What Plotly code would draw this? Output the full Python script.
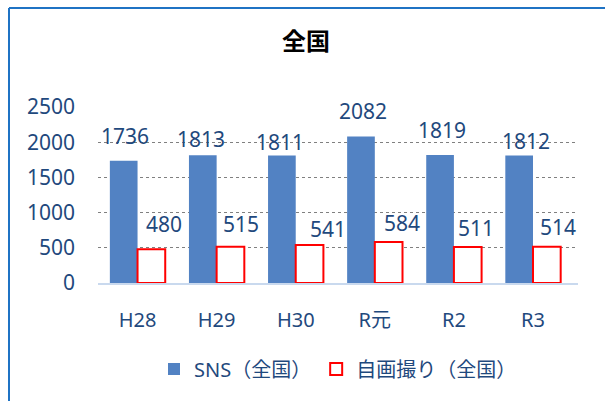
import plotly.graph_objects as go

categories = ["H28", "H29", "H30", "R元", "R2", "R3"]
sns_values = [1736, 1813, 1811, 2082, 1819, 1812]
selfie_values = [480, 515, 541, 584, 511, 514]
y_ticks = [0, 500, 1000, 1500, 2000, 2500]

# label placement styles (pixel shifts relative to category centre / bar top)
sns_lbl_dx = [-13, -16, -16, -12, -12, -7]
sns_lbl_dy = [25, 16, 14, 25, 25, 14]
sel_lbl_dx = [26, 24, 32, 27, 22, 25]
sel_lbl_dy = [25, 23, 16, 19, 19, 20]

W, H = 605, 401
L, R, T, B = 98, 27, 107, 118
pw, ph = W - L - R, H - T - B

TXT = "#1F497D"
FONT = "Noto Sans, Noto Sans CJK JP, sans-serif"

fig = go.Figure()
fig.add_trace(go.Bar(
    x=categories, y=sns_values, name="SNS（全国）",
    marker=dict(color="#5282C3", line=dict(width=0)),
))
fig.add_trace(go.Bar(
    x=categories, y=selfie_values, name="自画撮り（全国）",
    marker=dict(color="white", line=dict(color="#FF0000", width=2)),
))

ann = []
for i, c in enumerate(categories):
    ann.append(dict(x=c, y=sns_values[i], xref="x", yref="y", text=str(sns_values[i]),
                    showarrow=False, xshift=sns_lbl_dx[i], yshift=sns_lbl_dy[i],
                    yanchor="middle", font=dict(size=21, color=TXT, family=FONT)))
    ann.append(dict(x=c, y=selfie_values[i], xref="x", yref="y", text=str(selfie_values[i]),
                    showarrow=False, xshift=sel_lbl_dx[i], yshift=sel_lbl_dy[i],
                    yanchor="middle", font=dict(size=21, color=TXT, family=FONT)))

def px_x(p):
    return (p - L) / pw

def px_y(p):
    return (H - B - p) / ph

border = "#1F73C4"
shapes = [
    dict(type="line", xref="paper", yref="paper", x0=px_x(9), x1=px_x(610),
         y0=px_y(8), y1=px_y(8), line=dict(color=border, width=2)),
    dict(type="line", xref="paper", yref="paper", x0=px_x(9), x1=px_x(9),
         y0=px_y(8), y1=px_y(410), line=dict(color=border, width=2)),
]

fig.update_layout(
    width=W, height=H,
    margin=dict(l=L, r=R, t=T, b=B),
    paper_bgcolor="white", plot_bgcolor="white",
    barmode="group", bargap=0.3, bargroupgap=0,
    font=dict(family=FONT, color=TXT, size=20),
    title=dict(text="<b>全国</b>", x=306 / W, xanchor="center", xref="container",
               y=1 - 42 / H, yref="container", yanchor="middle",
               font=dict(size=24, color="black", family=FONT)),
    showlegend=True,
    legend=dict(orientation="h", x=0.5, xanchor="center", y=px_y(369), yanchor="middle",
                font=dict(size=20, color=TXT, family=FONT), itemwidth=30,
                bgcolor="rgba(0,0,0,0)"),
    annotations=ann,
    shapes=shapes,
    xaxis=dict(showline=True, linecolor="#C9D9EE", linewidth=2, showgrid=False,
               ticks="", ticklabelstandoff=18, tickfont=dict(size=20, color=TXT)),
    yaxis=dict(range=[0, 2500], tickvals=y_ticks, showgrid=True, gridcolor="#808080",
               griddash="dot", gridwidth=1, zeroline=False, showline=False, ticks="",
               ticklabelstandoff=22, tickfont=dict(size=21, color=TXT)),
)

fig.write_html("out.html")
